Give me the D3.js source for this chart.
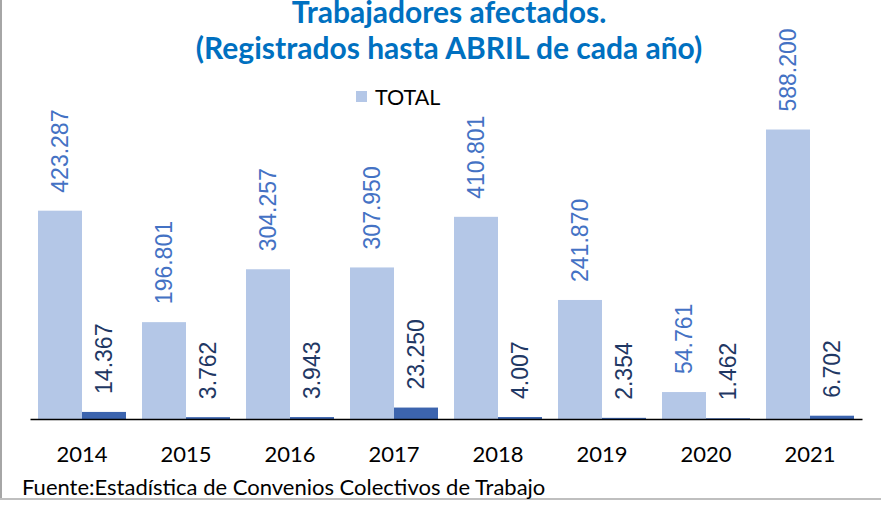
<!DOCTYPE html>
<meta charset="utf-8">
<style>
body { margin: 0; background: #fff; }
svg { display: block; }
.title { font: bold 30px Lato, sans-serif; fill: #0070c0; }
.lbl { font: 23px "Liberation Sans", Arial, sans-serif; }
</style>
<body>
<script src="https://cdnjs.cloudflare.com/ajax/libs/d3/7.8.5/d3.min.js"></script>
<script>

var years = ["2014", "2015", "2016", "2017", "2018", "2019", "2020", "2021"];
var total = [423287, 196801, 304257, 307950, 410801, 241870, 54761, 588200];
var second = [14367, 3762, 3943, 23250, 4007, 2354, 1462, 6702];

var width = 881, height = 505;
var margin = {left: 30, right: 19, base: 419};

var svg = d3.select("body").append("svg")
    .attr("width", width)
    .attr("height", height);

// frame lines (left and bottom)
svg.append("line").attr("x1", 1).attr("x2", 1).attr("y1", 0).attr("y2", 499)
    .attr("stroke", "#a6a6a6").attr("stroke-width", 2);
svg.append("line").attr("x1", 0).attr("x2", width).attr("y1", 499).attr("y2", 499)
    .attr("stroke", "#bfbfbf").attr("stroke-width", 2);

var x = d3.scaleBand()
    .domain(years)
    .range([margin.left, width - margin.right])
    .paddingInner(16 / 104)
    .paddingOuter(8 / 104);

var x1 = d3.scaleBand()
    .domain(["total", "second"])
    .range([0, x.bandwidth()]);

var y = d3.scaleLinear()
    .domain([0, 700000])
    .range([margin.base, 74.5]);

var fmt = function(v) { return d3.format(",")(v).replace(/,/g, "."); };

var rows = years.map(function(d, i) { return {year: d, total: total[i], second: second[i]}; });

var g = svg.selectAll(".grp")
    .data(rows)
  .enter().append("g")
    .attr("transform", function(d) { return "translate(" + x(d.year) + ",0)"; });

g.append("rect")
    .attr("x", x1("total"))
    .attr("width", x1.bandwidth())
    .attr("y", function(d) { return y(d.total); })
    .attr("height", function(d) { return y(0) - y(d.total); })
    .attr("fill", "#b4c7e7");

g.append("rect")
    .attr("x", x1("second"))
    .attr("width", x1.bandwidth())
    .attr("y", function(d) { return y(d.second); })
    .attr("height", function(d) { return y(0) - y(d.second); })
    .attr("fill", "#3c64ae");

g.append("text")
    .attr("class", "lbl")
    .attr("transform", function(d) {
      return "translate(" + (x1("total") + x1.bandwidth() / 2) + "," + (y(d.total) - 18) + ")rotate(-90)";
    })
    .attr("dy", "0.35em")
    .attr("fill", "#4472c4")
    .text(function(d) { return fmt(d.total); });

g.append("text")
    .attr("class", "lbl")
    .attr("transform", function(d) {
      return "translate(" + (x1("second") + x1.bandwidth() / 2) + "," + (y(d.second) - 18) + ")rotate(-90)";
    })
    .attr("dy", "0.35em")
    .attr("fill", "#1f3864")
    .text(function(d) { return fmt(d.second); });

// baseline axis
var xAxis = d3.axisBottom(x).tickSize(0).tickPadding(0);
var ax = svg.append("g")
    .attr("transform", "translate(0," + margin.base + ")")
    .call(xAxis);
ax.select(".domain").attr("stroke", "#000").attr("stroke-width", 1.5);
ax.selectAll(".tick text")
    .attr("y", 43)
    .attr("dy", 0)
    .style("font", "22px Lato, sans-serif")
    .attr("fill", "#000");

// title
svg.append("text").attr("class", "title")
    .attr("x", 449).attr("y", 23).attr("text-anchor", "middle")
    .text("Trabajadores afectados.");
svg.append("text").attr("class", "title")
    .attr("x", 449).attr("y", 59).attr("text-anchor", "middle")
    .text("(Registrados hasta ABRIL de cada año)");

// legend
svg.append("rect").attr("x", 356).attr("y", 91).attr("width", 11).attr("height", 11)
    .attr("fill", "#b4c7e7");
svg.append("text").attr("x", 375).attr("y", 105)
    .style("font", "21.5px Lato, sans-serif")
    .text("TOTAL");

// source note
svg.append("text").attr("x", 22).attr("y", 495)
    .style("font", "22px Lato, sans-serif")
    .text("Fuente:Estadística de Convenios Colectivos de Trabajo");

</script>
